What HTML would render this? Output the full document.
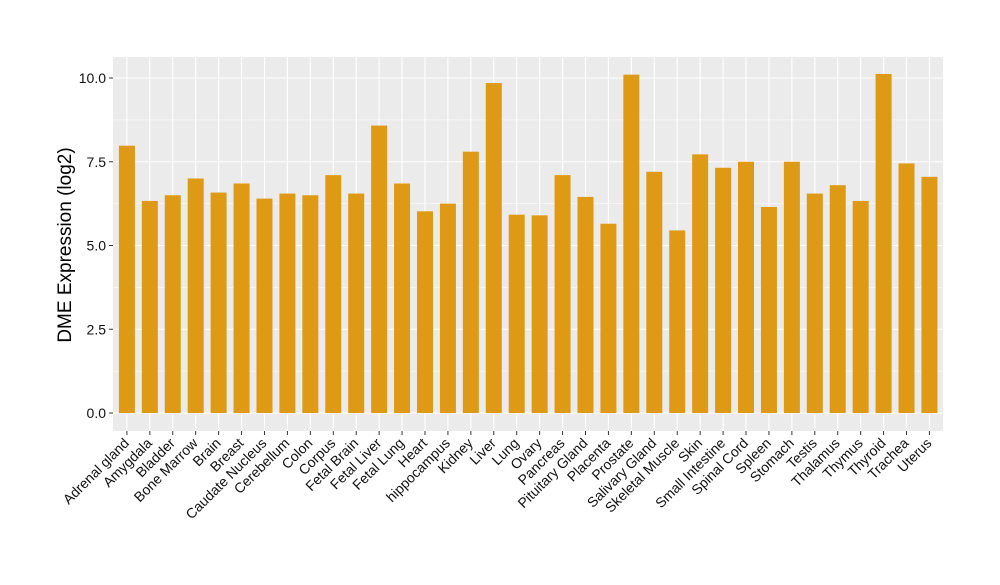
<!DOCTYPE html><html><head><style>body{margin:0;background:#fff}</style></head><body>
<svg width="1000" height="580" xmlns="http://www.w3.org/2000/svg" font-family="Liberation Sans, sans-serif">
<rect width="1000" height="580" fill="#fff"/>
<rect x="113" y="57" width="830" height="374" fill="#EBEBEB"/>
<g id="g"></g>
<text transform="translate(71,245) rotate(-90)" text-anchor="middle" font-size="19" fill="#000">DME Expression (log2)</text>
</svg>
<script>
const names=["Adrenal gland","Amygdala","Bladder","Bone Marrow","Brain","Breast","Caudate Nucleus","Cerebellum","Colon","Corpus","Fetal Brain","Fetal Liver","Fetal Lung","Heart","hippocampus","Kidney","Liver","Lung","Ovary","Pancreas","Pituitary Gland","Placenta","Prostate","Salivary Gland","Skeletal Muscle","Skin","Small Intestine","Spinal Cord","Spleen","Stomach","Testis","Thalamus","Thymus","Thyroid","Trachea","Uterus"];
const v=[7.98,6.33,6.5,7.0,6.58,6.85,6.4,6.55,6.5,7.1,6.55,8.58,6.85,6.02,6.25,7.8,9.85,5.92,5.9,7.1,6.45,5.65,10.1,7.2,5.45,7.72,7.32,7.5,6.15,7.5,6.55,6.8,6.33,10.12,7.45,7.05];
const y0=413,k=33.5,sp=22.93,x0=126.9;let s="";
for(let i=0;i<9;i++){const y=y0-i*1.25*k;s+=`<line x1="113" x2="943" y1="${y}" y2="${y}" stroke="#fff" stroke-width="${i%2?0.5:1.1}"/>`;}
for(let i=0;i<5;i++){const y=y0-i*2.5*k;s+=`<line x1="109" x2="113" y1="${y}" y2="${y}" stroke="#333"/><text x="106" y="${y+5}" text-anchor="end" font-size="14" fill="#111">${(i*2.5).toFixed(1)}</text>`;}
names.forEach((n,i)=>{const x=x0+i*sp;s+=`<line x1="${x}" x2="${x}" y1="57" y2="431" stroke="#fff" stroke-width="1.1"/>`;});
names.forEach((n,i)=>{const x=x0+i*sp,h=v[i]*k;s+=`<rect x="${x-8}" y="${y0-h}" width="16" height="${h}" fill="#DE9A14"/><line x1="${x}" x2="${x}" y1="431" y2="435" stroke="#333"/><text transform="translate(${x+3},${444}) rotate(-45)" text-anchor="end" font-size="14" fill="#111">${n}</text>`;});
document.getElementById("g").innerHTML=s;
</script>
</body></html>
